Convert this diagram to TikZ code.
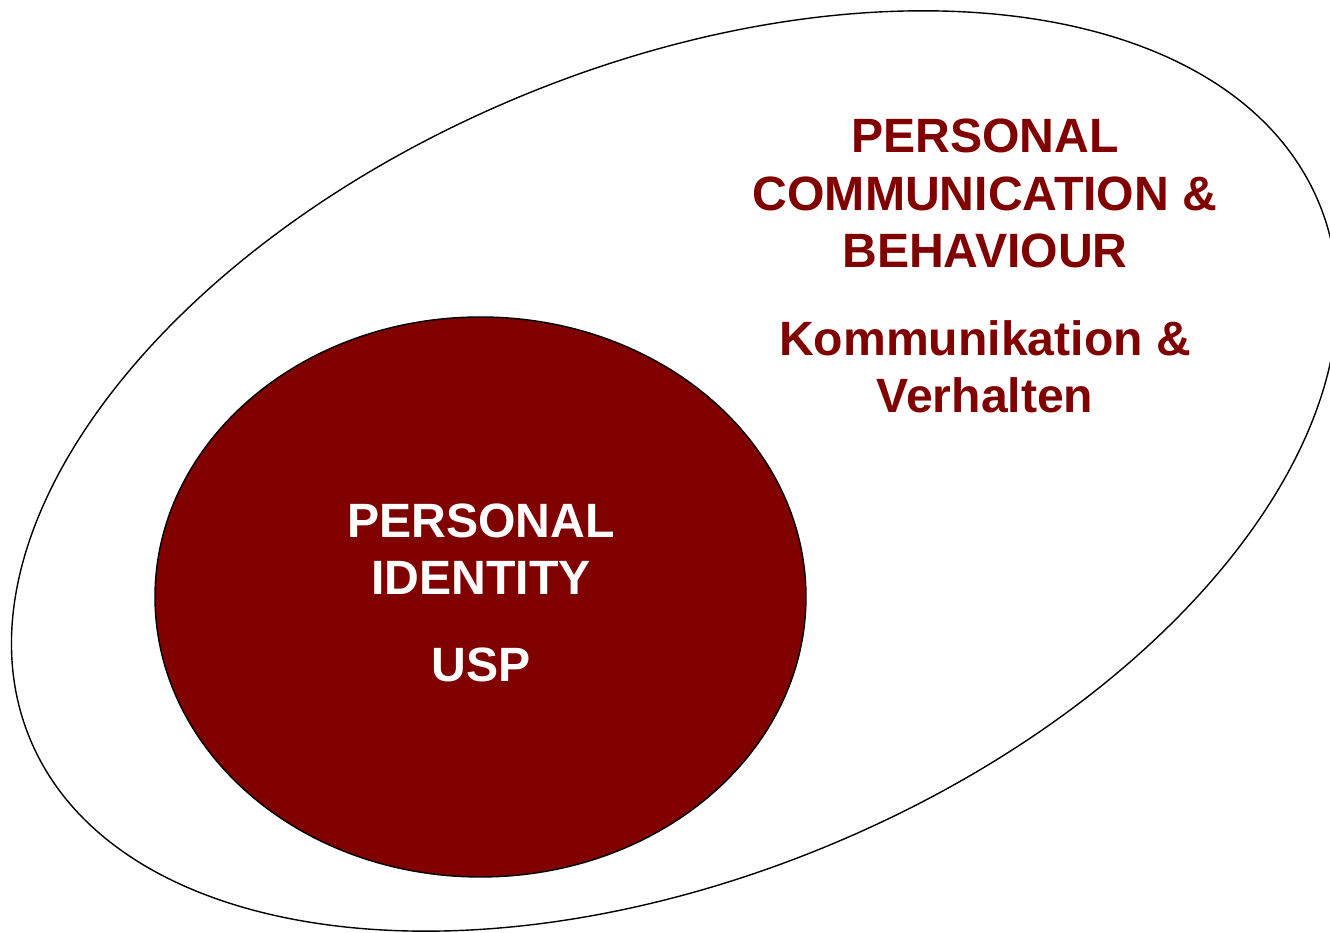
\documentclass[tikz,border=0pt]{standalone}
\usepackage{xcolor}
\usepackage{fontspec}
\setmainfont{Liberation Sans}
\usetikzlibrary{shapes.geometric}
\definecolor{identityred}{RGB}{128,0,0}
\tikzset{
outerellipse/.style={ellipse, draw=black!100,fill=none,line width=0.4pt, inner sep=0pt, minimum width= 13.96cm, minimum height = 8.1cm, rotate=22.6},
innerellipse/.style={ellipse, draw=black!100,fill=identityred,line width=0.4pt, inner sep=0pt, minimum width= 6.51cm, minimum height = 5.6cm},
redtext/.style={anchor=base, align=center, inner sep=0pt, text=identityred, font=\fontsize{13.7}{16.4}\selectfont\bfseries},
whitetext/.style={anchor=base, align=center, inner sep=0pt, text=white, font=\fontsize{13.7}{16.4}\selectfont\bfseries},
}

\begin{document}
\begin{tikzpicture}
        \useasboundingbox (0,0) rectangle (13.30,9.33);
        \clip (0,0) rectangle (13.30,9.33);

        \node[outerellipse] at (6.745,4.62) (outer) {};
        \node[innerellipse] at (4.805,3.36) (inner) {};

        % labels of the outer ring (base = last line)
        \node[redtext] at (9.85,6.65) (behaviour) {PERSONAL\\COMMUNICATION \&\\BEHAVIOUR};
        \node[redtext] at (9.85,5.20) (verhalten) {Kommunikation \&\\Verhalten};

        % labels of the core
        \node[whitetext] at (4.81,3.38) (identity) {PERSONAL\\IDENTITY};
        \node[whitetext] at (4.81,2.51) (usp) {USP};
    \end{tikzpicture}
\end{document}
